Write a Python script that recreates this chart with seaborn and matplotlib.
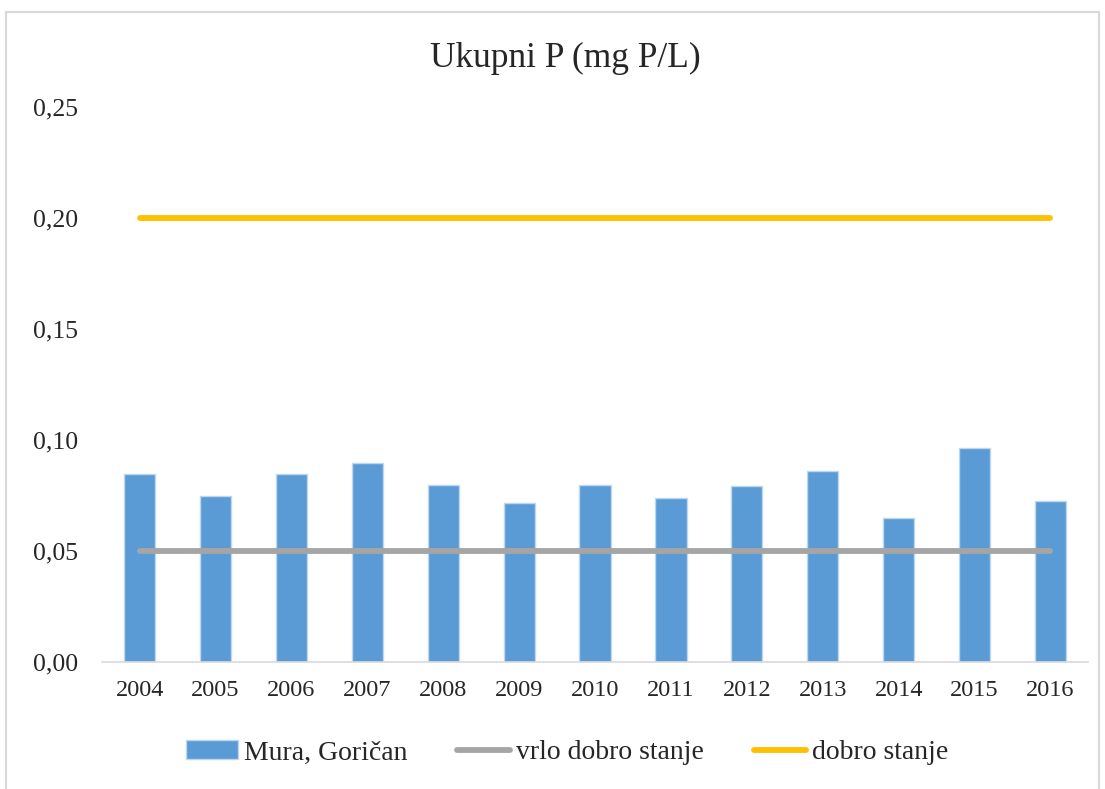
import numpy as np
import pandas as pd
import seaborn as sns
import matplotlib.pyplot as plt
from matplotlib.patches import Rectangle, Patch
from matplotlib.lines import Line2D
from matplotlib.ticker import FuncFormatter

# Data
years = ["2004", "2005", "2006", "2007", "2008", "2009", "2010",
         "2011", "2012", "2013", "2014", "2015", "2016"]
mura_gorican = [0.0845, 0.0746, 0.0845, 0.0896, 0.0799, 0.0718, 0.0799,
                0.0740, 0.0793, 0.0862, 0.0649, 0.0965, 0.0724]
vrlo_dobro = [0.05] * len(years)
dobro = [0.20] * len(years)
y_ticks = [0.0, 0.05, 0.10, 0.15, 0.20, 0.25]

df = pd.DataFrame({"year": years, "value": mura_gorican})

sns.set_style("white")
plt.rcParams["font.family"] = ["Liberation Serif", "DejaVu Serif"]

fig = plt.figure(figsize=(11.05, 7.89), dpi=100)
ax = fig.add_axes([0.092, 0.161, 0.893, 0.703])

sns.barplot(ax=ax, data=df, x="year", y="value", color="#5B9BD5",
            saturation=1, width=0.41, edgecolor="#BDD7EE", linewidth=1)

pos = np.arange(len(years))
sns.lineplot(ax=ax, x=pos, y=vrlo_dobro, color="#A5A5A5", linewidth=4.2,
             solid_capstyle="round")
sns.lineplot(ax=ax, x=pos, y=dobro, color="#FFC000", linewidth=4.2,
             solid_capstyle="round")

ax.set_xlim(-0.5, len(years) - 0.5)
ax.set_ylim(0, 0.25)
ax.set_yticks(y_ticks)
ax.yaxis.set_major_formatter(FuncFormatter(lambda v, p: f"{v:.2f}".replace(".", ",")))
ax.set_xlabel("")
ax.set_ylabel("")
ax.tick_params(axis="both", length=0)
ax.tick_params(axis="y", pad=17, labelsize=18.5)
ax.tick_params(axis="x", pad=13, labelsize=17.5)
for s in ["top", "right", "left"]:
    ax.spines[s].set_visible(False)
ax.spines["bottom"].set_color("#D9D9D9")
ax.spines["bottom"].set_linewidth(1.2)

fig.text(0.512, 0.926, "Ukupni P (mg P/L)", ha="center", va="center", fontsize=25.5)

handles = [Patch(facecolor="#5B9BD5", edgecolor="#BDD7EE"),
           Line2D([], [], color="#A5A5A5", linewidth=4.2),
           Line2D([], [], color="#FFC000", linewidth=4.2)]
fig.legend(handles, ["Mura, Goričan", "vrlo dobro stanje", "dobro stanje"],
           loc="center", bbox_to_anchor=(0.513, 0.046), ncol=3, frameon=False,
           fontsize=20, handlelength=1.9, handleheight=0.7, handletextpad=0.2,
           columnspacing=1.8)

# light border around the chart
fig.patches.append(Rectangle((0.005, -0.01), 0.99, 0.995, transform=fig.transFigure,
                             fill=False, edgecolor="#D9D9D9", linewidth=1.5))

fig.savefig("out.png", dpi=100)
